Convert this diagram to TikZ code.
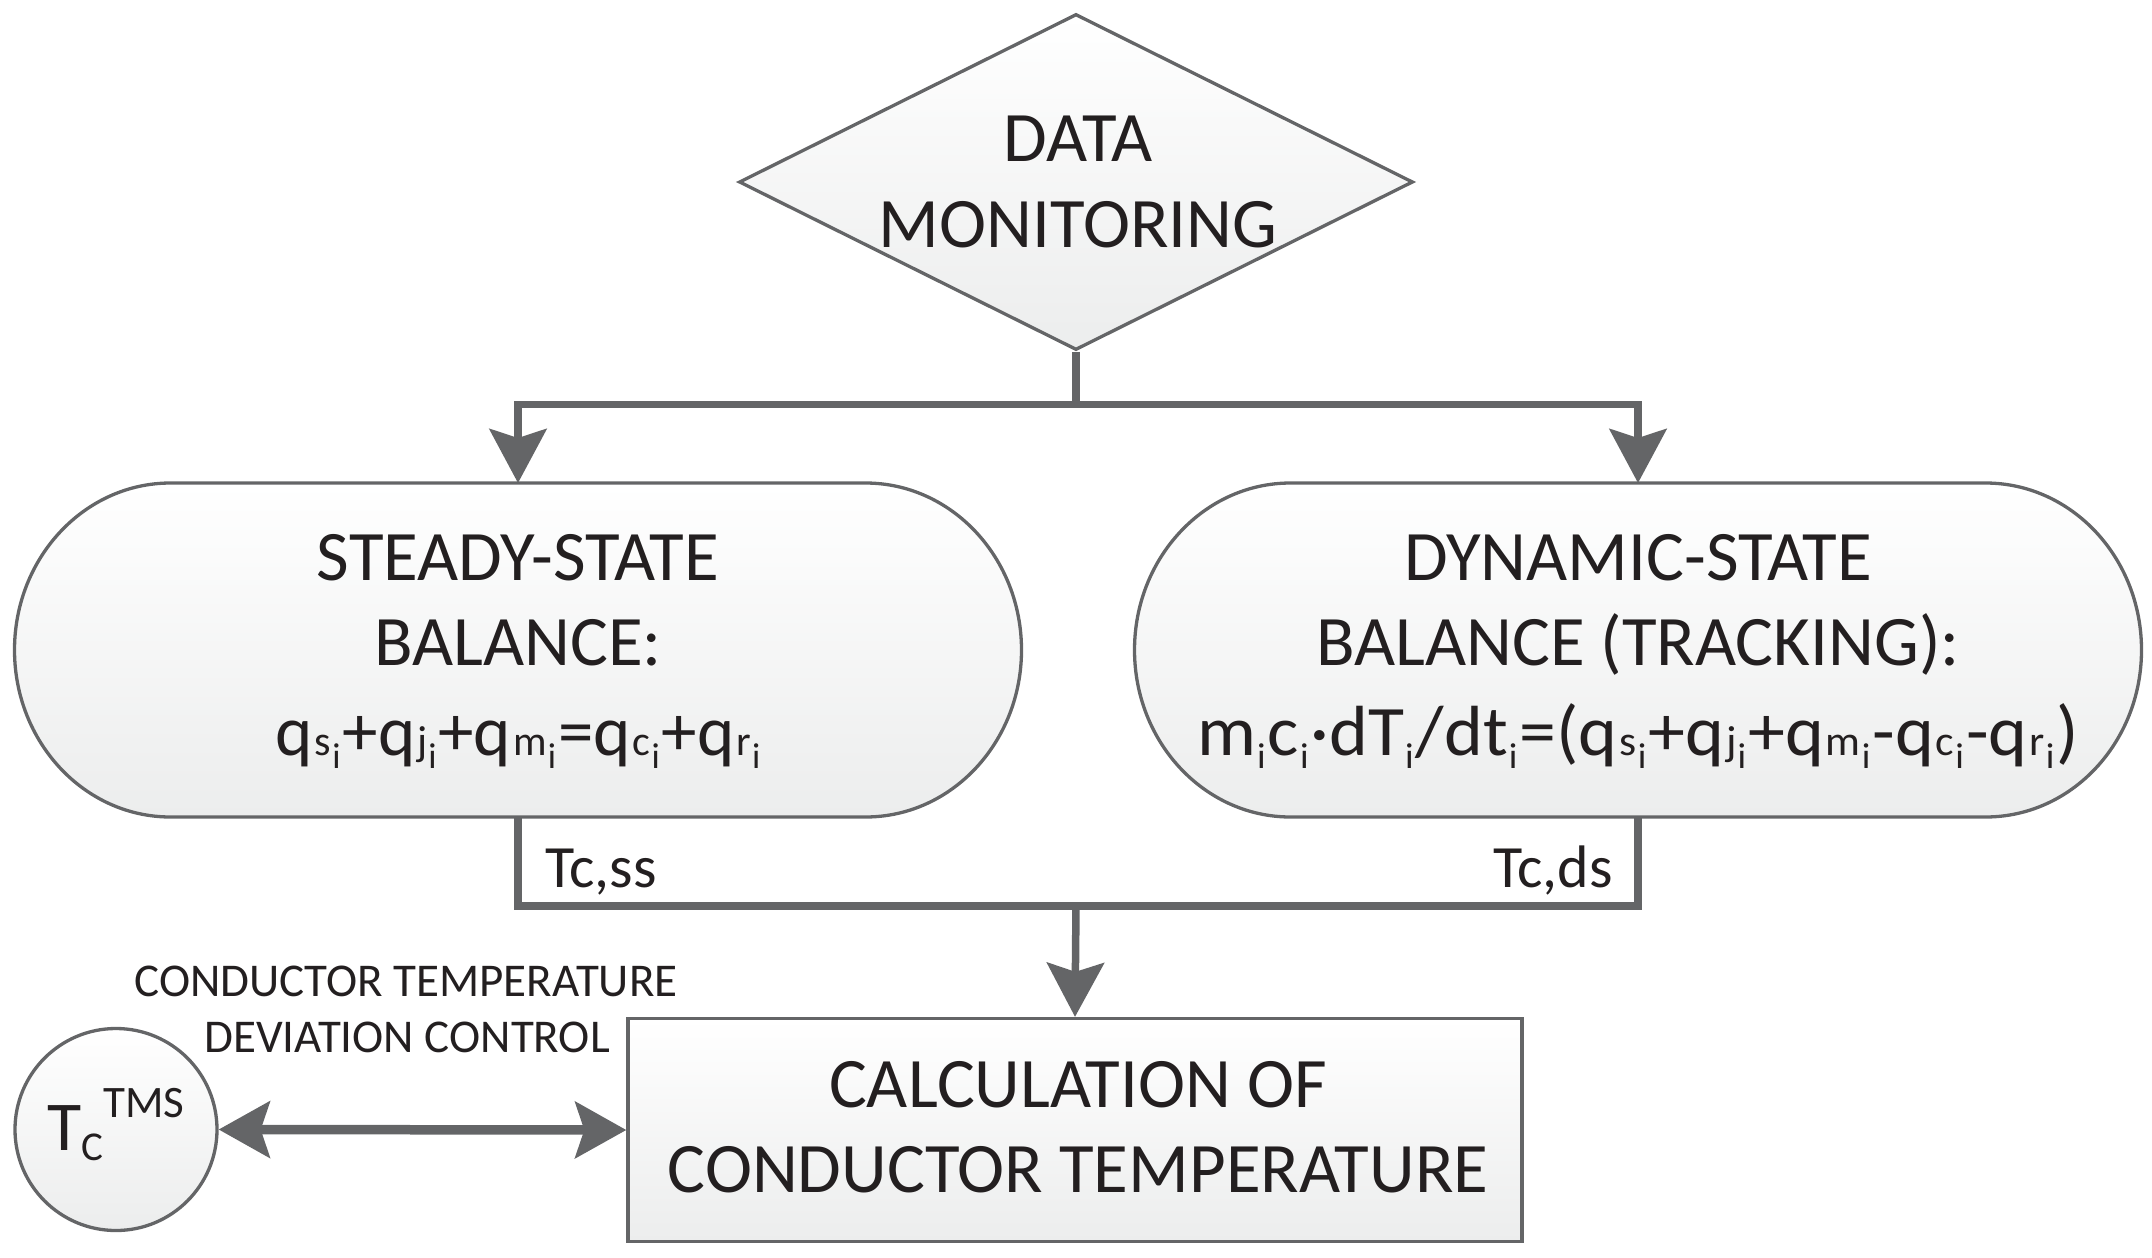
\documentclass[tikz,border=0pt]{standalone}
\usepackage{fontspec}
\setmainfont{Carlito}
\usetikzlibrary{arrows.meta,shapes.geometric}
\definecolor{linecol}{RGB}{100,101,103}
\definecolor{fillbot}{RGB}{236,237,237}
\definecolor{txtcol}{RGB}{35,31,32}
\newcommand\ii{\kern1pt\raisebox{-13pt}{\fontsize{36}{36}\selectfont i}\kern2pt}
\newcommand\sbs[1]{\kern2pt{\fontsize{42}{42}\selectfont #1}}
\begin{document}
\begin{tikzpicture}[x=1pt,y=1pt,
  shapebox/.style={draw=linecol, line width=3.3pt, top color=white, bottom color=fillbot},
  conn/.style={draw=linecol, line width=7.5pt},
  arr/.style={-{Stealth[length=54pt,width=57pt,inset=9pt]}},
  darr/.style={{Stealth[length=51pt,width=56pt,inset=9pt]}-{Stealth[length=51pt,width=56pt,inset=9pt]}},
  big/.style={text=txtcol, font=\fontsize{71}{85}\selectfont, inner sep=0pt, anchor=base},
  mid/.style={text=txtcol, font=\fontsize{60}{72}\selectfont, inner sep=0pt},
  small/.style={text=txtcol, font=\fontsize{47}{56}\selectfont, inner sep=0pt, anchor=base},
  ghost/.style={rectangle, inner sep=0pt, outer sep=0pt, minimum width=1007pt, minimum height=334pt}
]
\useasboundingbox (0,0) rectangle (2152,-1258);

% diamond
\node[shapebox, diamond, minimum width=674pt, minimum height=336pt, inner sep=0pt] (dm) at (1076,-182) {};
\node[big] (dm1) at (1078,-161) {DATA};
\node[big] (dm2) at (1078,-247) {MONITORING};

% pill boxes (ghost nodes for anchors)
\node[ghost] (ss) at (518,-650) {};
\node[ghost] (ds) at (1638,-650) {};
\path[shapebox] ([xshift=156pt]ss.north west) -- ([xshift=-156pt]ss.north east)
  arc[start angle=90, end angle=0, x radius=156pt, y radius=167pt]
  arc[start angle=0, end angle=-90, x radius=156pt, y radius=167pt]
  -- ([xshift=156pt]ss.south west)
  arc[start angle=270, end angle=180, x radius=156pt, y radius=167pt]
  arc[start angle=180, end angle=90, x radius=156pt, y radius=167pt] -- cycle;
\path[shapebox] ([xshift=156pt]ds.north west) -- ([xshift=-156pt]ds.north east)
  arc[start angle=90, end angle=0, x radius=156pt, y radius=167pt]
  arc[start angle=0, end angle=-90, x radius=156pt, y radius=167pt]
  -- ([xshift=156pt]ds.south west)
  arc[start angle=270, end angle=180, x radius=156pt, y radius=167pt]
  arc[start angle=180, end angle=90, x radius=156pt, y radius=167pt] -- cycle;

\node[big] (ss1) at (518,-580) {STEADY-STATE};
\node[big] (ss2) at (518,-665) {BALANCE:};
\node[big] (ss3) at (519,-755) {q\sbs{s}\ii+q\sbs{j}\ii+q\sbs{m}\ii=q\sbs{c}\ii+q\sbs{r}\ii};

\node[big] (ds1) at (1638,-580) {DYNAMIC-STATE};
\node[big] (ds2) at (1638,-665) {BALANCE (TRACKING):};
\node[big] (ds3) at (1638,-755) {\scalebox{1.04}[1]{m\ii c\ii\textperiodcentered dT\ii/dt\ii=(q\sbs{s}\ii+q\sbs{j}\ii+q\sbs{m}\ii-q\sbs{c}\ii-q\sbs{r}\ii)}};

% calculation box
\node[shapebox, rectangle, minimum width=894pt, minimum height=223pt, inner sep=0pt] (calc) at (1075,-1130) {};
\node[big] (cc1) at (1078,-1107) {CALCULATION OF};
\node[big] (cc2) at (1078,-1192) {CONDUCTOR TEMPERATURE};

% TMS circle
\node[shapebox, circle, minimum size=202pt, inner sep=0pt] (tc) at (116,-1129.5) {};
\node[text=txtcol, inner sep=0pt, anchor=base] (tct) at (116,-1150)
  {{\fontsize{70}{70}\selectfont T}\raisebox{-10pt}{\fontsize{41}{41}\selectfont C}\raisebox{33pt}{\fontsize{45}{45}\selectfont TMS}};

% label
\node[small] (lb1) at (406,-996) {CONDUCTOR TEMPERATURE};
\node[small] (lb2) at (407,-1052.6) {DEVIATION CONTROL};

% connectors
\coordinate (jtop) at (1076,-404.5);
\coordinate (jbot) at (1076,-906);
\draw[conn] (dm.south) -- (jtop);
\draw[conn,arr] (jtop) -| (ss.north);
\draw[conn,arr] (jtop) -| (ds.north);
\draw[conn] (ss.south) |- (jbot) -| (ds.south);
\draw[conn,arr] (jbot) -- (calc.north);
\draw[draw=linecol, line width=9.5pt, darr] (tc.east) -- (calc.west);

\node[mid, anchor=base west] (tss) at (545,-887) {Tc,ss};
\node[mid, anchor=base east] (tds) at (1613,-887) {Tc,ds};
\end{tikzpicture}
\end{document}
